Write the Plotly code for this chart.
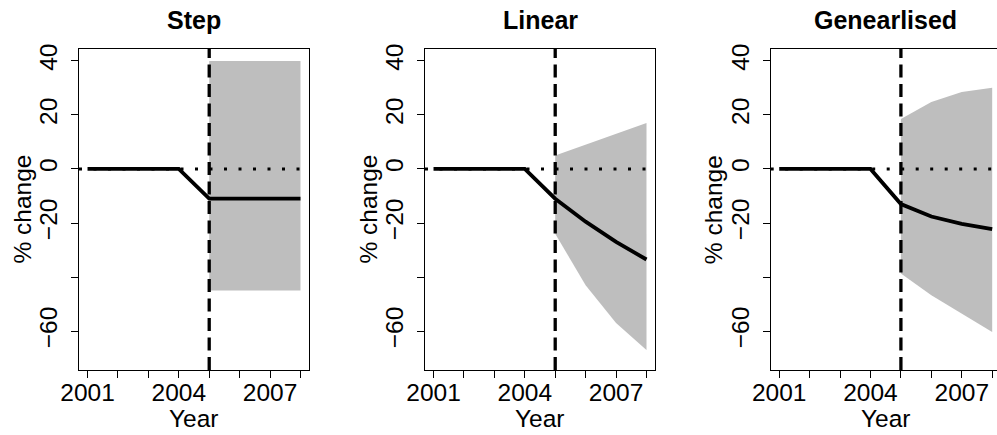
import plotly.graph_objects as go

# ---------------- data ----------------
years = [2001, 2002, 2003, 2004, 2005, 2006, 2007, 2008]
band_years = [2005, 2006, 2007, 2008]

titles = ["Step", "Linear", "Genearlised"]

step_est = [0, 0, 0, 0, -11, -11, -11, -11]
step_upper = [40, 40, 40, 40]
step_lower = [-45, -45, -45, -45]

linear_est = [0, 0, 0, 0, -11, -19.5, -27, -33.5]
linear_upper = [5, 9, 13, 17]
linear_lower = [-24, -43, -57, -67]

gen_est = [0, 0, 0, 0, -13, -17.6, -20.3, -22.3]
gen_upper = [18.5, 24.8, 28.5, 30.1]
gen_lower = [-38.7, -46.7, -53.5, -60.3]

y_tickvals = [-60, -40, -20, 0, 20, 40]
y_ticktext = ["\u221260", "", "\u221220", "0", "20", "40"]
x_tickvals = years
x_ticktext = ["2001", "", "", "2004", "", "", "2007", ""]

intervention_year = 2005
x_label = "Year"
y_label = "% change"

panels = [
    (step_est, step_upper, step_lower),
    (linear_est, linear_upper, linear_lower),
    (gen_est, gen_upper, gen_lower),
]

# ---------------- layout geometry (pixels) ----------------
W, H = 997, 435
top_px, bottom_px = 49, 370
plot_h = bottom_px - top_px
panel_left_px = [79, 425, 770.7]
panel_w_px = 230
xmin, xmax = 2000.72, 2008.28
ymin, ymax = -74.4, 44.4

FONT = "Liberation Sans, Arial, Helvetica, sans-serif"
GREY = "#BEBEBE"
FS = 24.5
FS_TITLE = 25

def px_x(p):
    return p / W

def px_y(p):
    return (bottom_px - p) / plot_h

fig = go.Figure()
layout = dict(
    width=W, height=H, autosize=False,
    margin=dict(l=0, r=0, t=top_px, b=H - bottom_px, pad=0, autoexpand=False),
    paper_bgcolor="white", plot_bgcolor="white",
    showlegend=False,
    font=dict(family=FONT, color="black"),
)
annotations = []
shapes = []

for i, (est, up, lo) in enumerate(panels):
    n = i + 1
    xs = "x" if n == 1 else f"x{n}"
    ys = "y" if n == 1 else f"y{n}"
    left = panel_left_px[i]
    right = left + panel_w_px
    scale = panel_w_px / (xmax - xmin)
    d1 = min(right, W)
    rng_hi = xmin + (d1 - left) / scale

    fig.add_trace(go.Scatter(
        x=band_years + band_years[::-1], y=up + lo[::-1],
        fill="toself", fillcolor=GREY, mode="lines",
        line=dict(width=0, color=GREY), xaxis=xs, yaxis=ys, hoverinfo="skip"))
    fig.add_trace(go.Scatter(
        x=years, y=est, mode="lines",
        line=dict(color="black", width=3.8), xaxis=xs, yaxis=ys))

    layout["xaxis" if n == 1 else f"xaxis{n}"] = dict(
        domain=[px_x(left), px_x(d1)], range=[xmin, rng_hi], anchor=ys,
        showgrid=False, zeroline=False, showline=True, linecolor="black",
        linewidth=1, mirror=True, ticks="outside", ticklen=7, tickwidth=1,
        tickcolor="black", tickmode="array", tickvals=x_tickvals,
        ticktext=x_ticktext, tickfont=dict(size=FS, family=FONT, color="black"),
        ticklabelstandoff=-6,
        fixedrange=True, automargin=False)
    layout["yaxis" if n == 1 else f"yaxis{n}"] = dict(
        domain=[0, 1], range=[ymin, ymax], anchor=xs,
        showgrid=False, zeroline=False, showline=True, linecolor="black",
        linewidth=1, mirror=(n != 3), ticks="outside", ticklen=7, tickwidth=1,
        tickcolor="black", tickmode="array", tickvals=y_tickvals,
        ticktext=y_ticktext, tickangle=-90,
        tickfont=dict(size=FS, family=FONT, color="black"), fixedrange=True,
        ticklabelstandoff=4,
        automargin=False)

    # dotted zero line
    shapes.append(dict(type="line", xref=f"{xs} domain", yref=ys,
                       x0=0, x1=1, y0=0, y1=0, layer="above",
                       line=dict(color="black", width=3, dash="3px,11.5px")))
    # dashed intervention line (drawn from bottom to top)
    shapes.append(dict(type="line", xref=xs, yref=f"{ys} domain",
                       x0=intervention_year, x1=intervention_year, y0=0, y1=1,
                       layer="above",
                       line=dict(color="black", width=3.3, dash="13px,6.5px")))

    cx = left + panel_w_px / 2
    annotations.append(dict(text=f"<b>{titles[i]}</b>", xref="paper", yref="paper",
                            x=px_x(cx), y=px_y(20), xanchor="center", yanchor="middle",
                            showarrow=False, font=dict(size=FS_TITLE, family=FONT, color="black")))
    annotations.append(dict(text=x_label, xref="paper", yref="paper",
                            x=px_x(cx), y=px_y(419), xanchor="center", yanchor="middle",
                            showarrow=False, font=dict(size=FS, family=FONT, color="black")))
    annotations.append(dict(text=y_label, xref="paper", yref="paper",
                            x=px_x(left - 57), y=0.5, xanchor="center", yanchor="middle",
                            textangle=-90, showarrow=False,
                            font=dict(size=FS, family=FONT, color="black")))

layout["annotations"] = annotations
layout["shapes"] = shapes
fig.update_layout(**layout)
fig.write_html(
    "out.html",
    config={"responsive": False, "displayModeBar": False},
    post_script="document.body.style.margin='0';document.body.style.overflow='hidden';",
)
